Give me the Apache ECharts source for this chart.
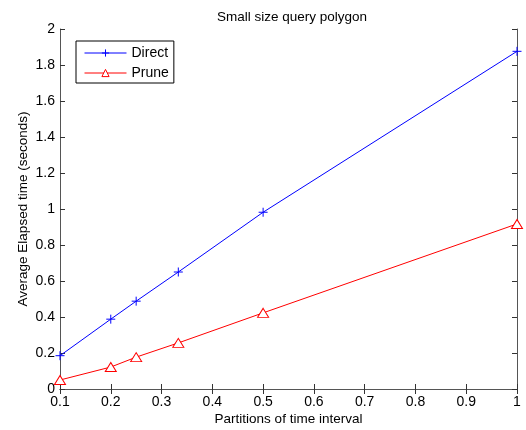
<!DOCTYPE html>
<html><head><meta charset="utf-8">
<script src="https://cdn.jsdelivr.net/npm/echarts@6/dist/echarts.min.js"></script>
<style>html,body{margin:0;padding:0;background:#fff}#c{width:526px;height:430px}</style>
</head><body><div id="c"></div>
<script>
const partitions = [0.1, 0.2, 0.25, 0.333, 0.5, 1];
const directValues = [0.185, 0.388, 0.488, 0.65, 0.982, 1.876];
const pruneValues = [0.05, 0.122, 0.177, 0.256, 0.423, 0.917];
const xTicks = [0.1,0.2,0.3,0.4,0.5,0.6,0.7,0.8,0.9,1];
const yTicks = [0,0.2,0.4,0.6,0.8,1,1.2,1.4,1.6,1.8,2];

const font = 'Liberation Sans, Arial, Helvetica, sans-serif';
const chart = echarts.init(document.getElementById('c'));
const tickStyle = {show:true, inside:true, length:5, lineStyle:{color:'#333', width:1}};
const lineStyleAx = {show:true, lineStyle:{color:'#555', width:1}};
function fmt(v){ return String(Math.round(v*10)/10); }
chart.setOption({
  animation:false,
  backgroundColor:'#fff',
  title:{text:'Small size query polygon', left:287, textAlign:'center', top:5,
    textStyle:{fontFamily:font, fontSize:13.5, fontWeight:'normal', color:'#000'}},
  grid:{left:60, right:9, top:29, bottom:41, show:false, containLabel:false, outerBoundsMode:'none'},
  legend:{left:76, top:41, orient:'vertical', itemWidth:42, itemHeight:9, itemGap:6,
    padding:[5,5,3,8], borderColor:'#000', borderWidth:1, backgroundColor:'#fff',
    lineStyle:{width:1}, itemStyle:{borderWidth:1},
    textStyle:{fontFamily:font, fontSize:14, lineHeight:14, color:'#000'},
    data:['Direct','Prune']},
  xAxis:[{type:'value', min:0.1, max:1, interval:0.1, position:'bottom',
      name:'Partitions of time interval', nameLocation:'middle', nameGap:23, nameMoveOverlap:false,
      nameTextStyle:{fontFamily:font, fontSize:13.5, color:'#000'},
      axisLine:lineStyleAx, axisTick:tickStyle, splitLine:{show:false},
      axisLabel:{fontFamily:font, fontSize:14, color:'#000', margin:6, formatter:fmt}},
    {type:'value', min:0.1, max:1, interval:0.1, position:'top',
      axisLine:lineStyleAx, axisTick:tickStyle, splitLine:{show:false}, axisLabel:{show:false}}],
  yAxis:[{type:'value', min:0, max:2, interval:0.2, position:'left',
      name:'Average Elapsed time (seconds)', nameLocation:'middle', nameGap:30, nameMoveOverlap:false,
      nameTextStyle:{fontFamily:font, fontSize:13.5, color:'#000'},
      axisLine:lineStyleAx, axisTick:tickStyle, splitLine:{show:false},
      axisLabel:{fontFamily:font, fontSize:14, color:'#000', margin:5, formatter:fmt}},
    {type:'value', min:0, max:2, interval:0.2, position:'right',
      axisLine:lineStyleAx, axisTick:tickStyle, splitLine:{show:false}, axisLabel:{show:false}}],
  series:[
    {name:'Direct', type:'line', data:partitions.map((x,i)=>[x,directValues[i]]),
      symbol:'path://M5,0 L5,10 M0,5 L10,5', symbolSize:9, showAllSymbol:true,
      lineStyle:{color:'#0000ff', width:1},
      itemStyle:{color:'none', borderColor:'#0000ff', borderWidth:1}},
    {name:'Prune', type:'line', data:partitions.map((x,i)=>[x,pruneValues[i]]),
      symbol:'triangle', symbolSize:[11,9], showAllSymbol:true,
      lineStyle:{color:'#ff0000', width:1},
      itemStyle:{color:'#fff', borderColor:'#ff0000', borderWidth:1}}
  ]
});
</script></body></html>
